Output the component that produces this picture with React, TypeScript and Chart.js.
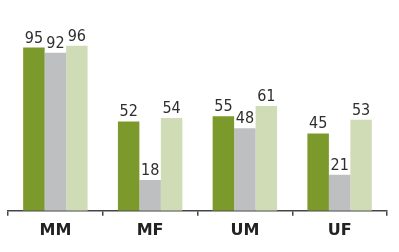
import React, { useEffect, useRef } from "react";
import { Chart, registerables } from "chart.js";

Chart.register(...registerables);

const categories = ["MM", "MF", "UM", "UF"];
const seriesA = [95, 52, 55, 45];
const seriesB = [92, 18, 48, 21];
const seriesC = [96, 54, 61, 53];
const seriesNames = ["A", "B", "C"];
const colors = ["#7b9a2b", "#bebfc1", "#d0dcb6"];

const labelPlugin = {
  id: "valueLabels",
  afterDatasetsDraw(chart: any) {
    const ctx = chart.ctx;
    ctx.save();
    ctx.fillStyle = "#2e2e2e";
    ctx.font = "16px 'DejaVu Sans Condensed', 'Liberation Sans Narrow', sans-serif";
    ctx.textAlign = "center";
    ctx.textBaseline = "alphabetic";
    chart.data.datasets.forEach((ds: any, i: number) => {
      const meta = chart.getDatasetMeta(i);
      meta.data.forEach((bar: any, j: number) => {
        ctx.fillText(String(ds.data[j]), bar.x, bar.y - 5);
      });
    });
    ctx.restore();
  },
};

export default function App() {
  const ref = useRef<HTMLCanvasElement>(null);
  useEffect(() => {
    const chart = new Chart(ref.current!, {
      type: "bar",
      data: {
        labels: categories,
        datasets: [seriesA, seriesB, seriesC].map((d, i) => ({
          label: seriesNames[i],
          data: d,
          backgroundColor: colors[i],
          borderWidth: 0,
          categoryPercentage: 0.68,
          barPercentage: 1.0,
        })),
      },
      options: {
        animation: false,
        responsive: false,
        maintainAspectRatio: false,
        layout: { padding: { left: 8, right: 12, top: 39, bottom: 7 } },
        plugins: { legend: { display: false }, tooltip: { enabled: false }, title: { display: false } },
        scales: {
          y: { display: false, min: 0, max: 100 },
          x: {
            offset: true,
            border: { display: true, color: "#444444", width: 1.5 },
            grid: {
              display: true,
              offset: true,
              drawOnChartArea: false,
              drawTicks: true,
              tickLength: 5,
              color: "#444444",
              lineWidth: 1.5,
            },
            ticks: {
              color: "#222222",
              padding: 5,
              font: { family: "'DejaVu Sans', sans-serif", size: 16, weight: "bold" },
            },
          },
        },
      },
      plugins: [labelPlugin],
    });
    return () => chart.destroy();
  }, []);
  return (
    <div style={{ position: "fixed", left: 0, top: 0, width: 399, height: 252, background: "#fff" }}>
      <canvas ref={ref} width={399} height={252} style={{ width: 399, height: 252 }} />
    </div>
  );
}
